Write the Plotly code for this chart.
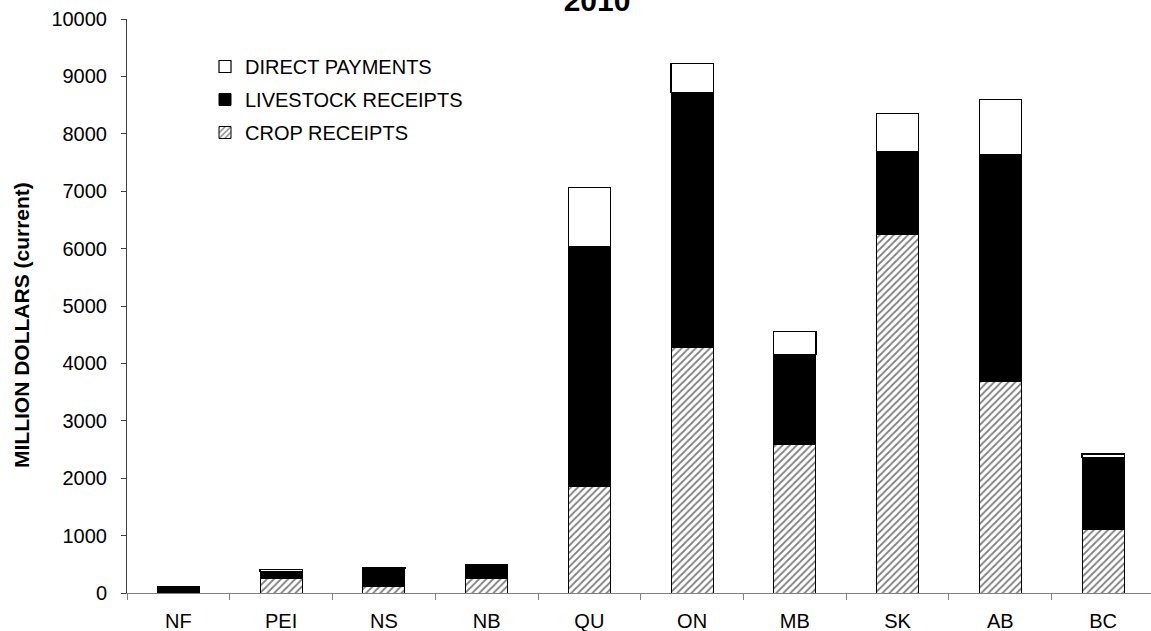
import plotly.graph_objects as go

provinces = ["NF", "PEI", "NS", "NB", "QU", "ON", "MB", "SK", "AB", "BC"]
crop_receipts = [15, 245, 105, 245, 1860, 4270, 2580, 6240, 3680, 1110]
livestock_receipts = [95, 130, 320, 245, 4170, 4450, 1570, 1450, 3960, 1250]
direct_payments = [5, 30, 10, 10, 1040, 510, 410, 660, 960, 60]

y_ticks = [0, 1000, 2000, 3000, 4000, 5000, 6000, 7000, 8000, 9000, 10000]
y_tick_labels = [str(v) for v in y_ticks]

font_family = "Liberation Sans, Arial, sans-serif"

# plot area in pixels
L, T, W, H = 127, 19, 1024, 574

fig = go.Figure()
fig.add_trace(go.Bar(
    x=provinces, y=crop_receipts, name="CROP RECEIPTS",
    marker=dict(color="white", line=dict(color="black", width=1),
                pattern=dict(shape="/", fgcolor="black", bgcolor="white", size=5, solidity=0.35)),
    legendgroup="crop", legendrank=3,
))
fig.add_trace(go.Bar(
    x=provinces, y=livestock_receipts, name="LIVESTOCK RECEIPTS",
    marker=dict(color="black", line=dict(color="black", width=1)),
    legendgroup="live", legendrank=2,
))
fig.add_trace(go.Bar(
    x=provinces, y=direct_payments, name="DIRECT PAYMENTS",
    marker=dict(color="white", line=dict(color="black", width=1.2)),
    legendgroup="direct", legendrank=1,
))

fig.add_annotation(
    text="<b>MILLION DOLLARS (current)</b>", textangle=-90,
    xref="paper", yref="paper", x=(22 - L) / W, y=1 - (325 - T) / H,
    xanchor="center", yanchor="middle", showarrow=False,
    font=dict(size=21, family=font_family, color="black"),
)

fig.update_layout(
    width=1151, height=631,
    barmode="stack",
    bargap=0.59,
    plot_bgcolor="white", paper_bgcolor="white",
    margin=dict(l=L, r=0, t=T, b=631 - T - H, autoexpand=False),
    font=dict(family=font_family, size=20, color="black"),
    title=dict(text="<b>2010</b>", x=597/1151, xanchor="center", xref="container",
               y=1.0, yanchor="middle", yref="container", automargin=False,
               font=dict(size=30, family=font_family, color="black")),
    showlegend=True,
    legend=dict(x=(205 - L)/W, y=1 - (47 - T)/H, xanchor="left", yanchor="top",
                traceorder="grouped", tracegroupgap=4,
                font=dict(size=20, family=font_family, color="black"),
                bgcolor="rgba(0,0,0,0)", itemwidth=30),
    xaxis=dict(range=[-0.5, 9.466], showline=True, linecolor="#808080", linewidth=1,
               ticks="outside", tickson="boundaries", ticklen=6, tickcolor="#808080",
               tickfont=dict(size=20), ticklabelstandoff=10,
               showgrid=False, zeroline=False, automargin=False),
    yaxis=dict(range=[0, 10000], tickvals=y_ticks, ticktext=y_tick_labels, showline=True,
               linecolor="#404040", linewidth=1, ticks="outside", ticklen=5,
               tickcolor="#404040", tickfont=dict(size=20), ticklabelstandoff=10,
               showgrid=False, zeroline=False, automargin=False),
)

fig.write_html("out.html", config={"displayModeBar": False},
               post_script="document.body.style.margin='0px';")
